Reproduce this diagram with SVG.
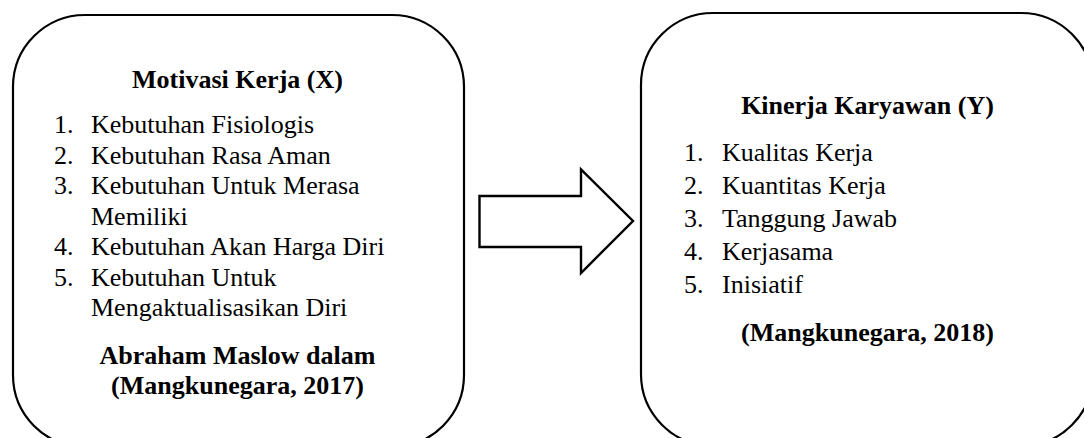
<svg xmlns="http://www.w3.org/2000/svg" width="1084" height="438" viewBox="0 0 1084 438">
<style>
.box{fill:#fff;stroke:#000;stroke-width:2.2}
.t{font-family:"Liberation Serif","Times New Roman",serif;font-size:26px;fill:#000}
.b{font-weight:bold;text-anchor:middle}
</style>
<rect width="1084" height="438" fill="#fff"/>
<g id="node-x">
<rect class="box" x="13" y="15" width="451" height="432" rx="72" ry="72"/>
<text class="t b" x="237.5" y="88">Motivasi Kerja (X)</text>
<text class="t" x="54" y="133">1.</text><text class="t" x="91" y="133">Kebutuhan Fisiologis</text>
<text class="t" x="54" y="163.5">2.</text><text class="t" x="91" y="163.5">Kebutuhan Rasa Aman</text>
<text class="t" x="54" y="194">3.</text><text class="t" x="91" y="194">Kebutuhan Untuk Merasa</text>
<text class="t" x="91" y="224.5">Memiliki</text>
<text class="t" x="54" y="255">4.</text><text class="t" x="91" y="255">Kebutuhan Akan Harga Diri</text>
<text class="t" x="54" y="285.5">5.</text><text class="t" x="91" y="285.5">Kebutuhan Untuk</text>
<text class="t" x="91" y="316">Mengaktualisasikan Diri</text>
<text class="t b" x="237.5" y="364">Abraham Maslow dalam</text>
<text class="t b" x="237.5" y="394">(Mangkunegara, 2017)</text>
</g>
<g id="connectors">
<path d="M479.5 196 L581 196 L581 169.5 L633 221 L581 273 L581 247 L479.5 247 Z" fill="#fff" stroke="#000" stroke-width="2.4" stroke-linejoin="miter"/>
</g>
<g id="node-y">
<rect class="box" x="641" y="13" width="452" height="433" rx="72" ry="72"/>
<text class="t b" x="867.5" y="114">Kinerja Karyawan (Y)</text>
<text class="t" x="684" y="161">1.</text><text class="t" x="722" y="161">Kualitas Kerja</text>
<text class="t" x="684" y="194">2.</text><text class="t" x="722" y="194">Kuantitas Kerja</text>
<text class="t" x="684" y="227">3.</text><text class="t" x="722" y="227">Tanggung Jawab</text>
<text class="t" x="684" y="260">4.</text><text class="t" x="722" y="260">Kerjasama</text>
<text class="t" x="684" y="293">5.</text><text class="t" x="722" y="293">Inisiatif</text>
<text class="t b" x="867.5" y="341">(Mangkunegara, 2018)</text>
</g>
</svg>
